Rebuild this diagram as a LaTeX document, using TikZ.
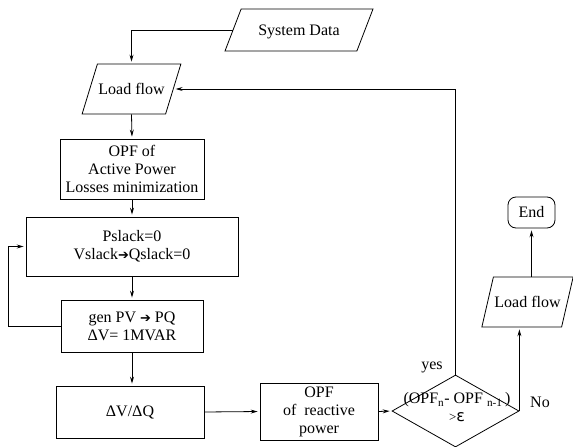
\documentclass[tikz,border=0pt]{standalone}
\usepackage{fontspec}
\setmainfont{Liberation Serif}
\newfontfamily\symfont{DejaVu Sans}
\usetikzlibrary{shapes.geometric, arrows.meta}

\begin{document}
\begin{tikzpicture}[x=1pt, y=-1pt, font=\fontsize{16}{18}\selectfont,
  io/.style={trapezium, trapezium left angle=73, trapezium right angle=107, trapezium stretches body, draw, line width=.8pt, inner xsep=1pt, inner ysep=0pt},
  box/.style={rectangle, draw, line width=.8pt, align=center, inner sep=1pt},
  dec/.style={diamond, draw, line width=.8pt, inner sep=0pt},
  line/.style={line width=.8pt, shorten >=2pt, -{Stealth[length=7pt, width=4pt, inset=2.5pt]}}]
  \useasboundingbox (0,0) rectangle (573,447);

  \node[io, minimum width=148pt, text height=26.3pt, text depth=15.7pt, trapezium left angle=69, trapezium right angle=111] (sd) at (299,30) {System Data};
  \node[io, minimum width=97pt, text height=30.3pt, text depth=19.7pt] (lf1) at (131.5,89) {Load flow};
  \node[box, minimum width=144pt, minimum height=60pt] (opf1) at (132,169) {OPF of\\Active Power\\Losses minimization};
  \node[box, minimum width=212pt, minimum height=59pt] (ps) at (132,246.5) {Pslack=0\\Vslack{\symfont\fontsize{13}{18}\selectfont ➔}Qslack=0};
  \node[box, minimum width=142pt, minimum height=52pt] (gen) at (132,326) {gen PV {\symfont\fontsize{13}{18}\selectfont ➔} PQ\\ΔV= 1MVAR};
  \node[box, minimum width=148pt, minimum height=52pt] (dvq) at (130,412) {ΔV/ΔQ};
  \node[box, minimum width=118pt, minimum height=57pt] (opf2) at (319,411.5) {OPF\\of~ reactive\\power};
  \node[dec, minimum width=127pt, minimum height=72pt] (test) at (455.5,411) {};
  \node[align=center, inner sep=0pt] (testtxt) at (457,407) {(OPF\textsubscript{n}- OPF \textsubscript{n-1}\,)\\{\fontsize{13}{18}\selectfont >}{\symfont ε}};
  \node[io, minimum width=91pt, text height=30.3pt, text depth=19.7pt, trapezium left angle=77, trapezium right angle=103] (lf2) at (527.5,302) {Load flow};
  \node[box, rounded corners=8pt, minimum width=47pt, minimum height=31pt] (fin) at (531.5,212.5) {End};

  \node (yes) at (432,367) {yes};
  \node (no) at (540,402) {No};

  \draw[line] (sd.west) -| (lf1.north);
  \draw[line] (lf1.south) -- (opf1.north);
  \draw[line] (opf1.south) -- (ps.north);
  \draw[line] (ps.south) -- (gen.north);
  \draw[line] (gen.west) -- ++(-52,0) |- (ps.west);
  \draw[line] (gen.south) -- (gen.south |- dvq.north);
  \draw[line] (dvq.east) -- (opf2.west);
  \draw[line] (opf2.east) -- (test.west);
  \draw[line] (test.north) |- (lf1.east);
  \draw[line] (test.east) -- (test.east |- lf2.south);
  \draw[line] (fin.south |- lf2.north) -- (fin.south);
\end{tikzpicture}
\end{document}
